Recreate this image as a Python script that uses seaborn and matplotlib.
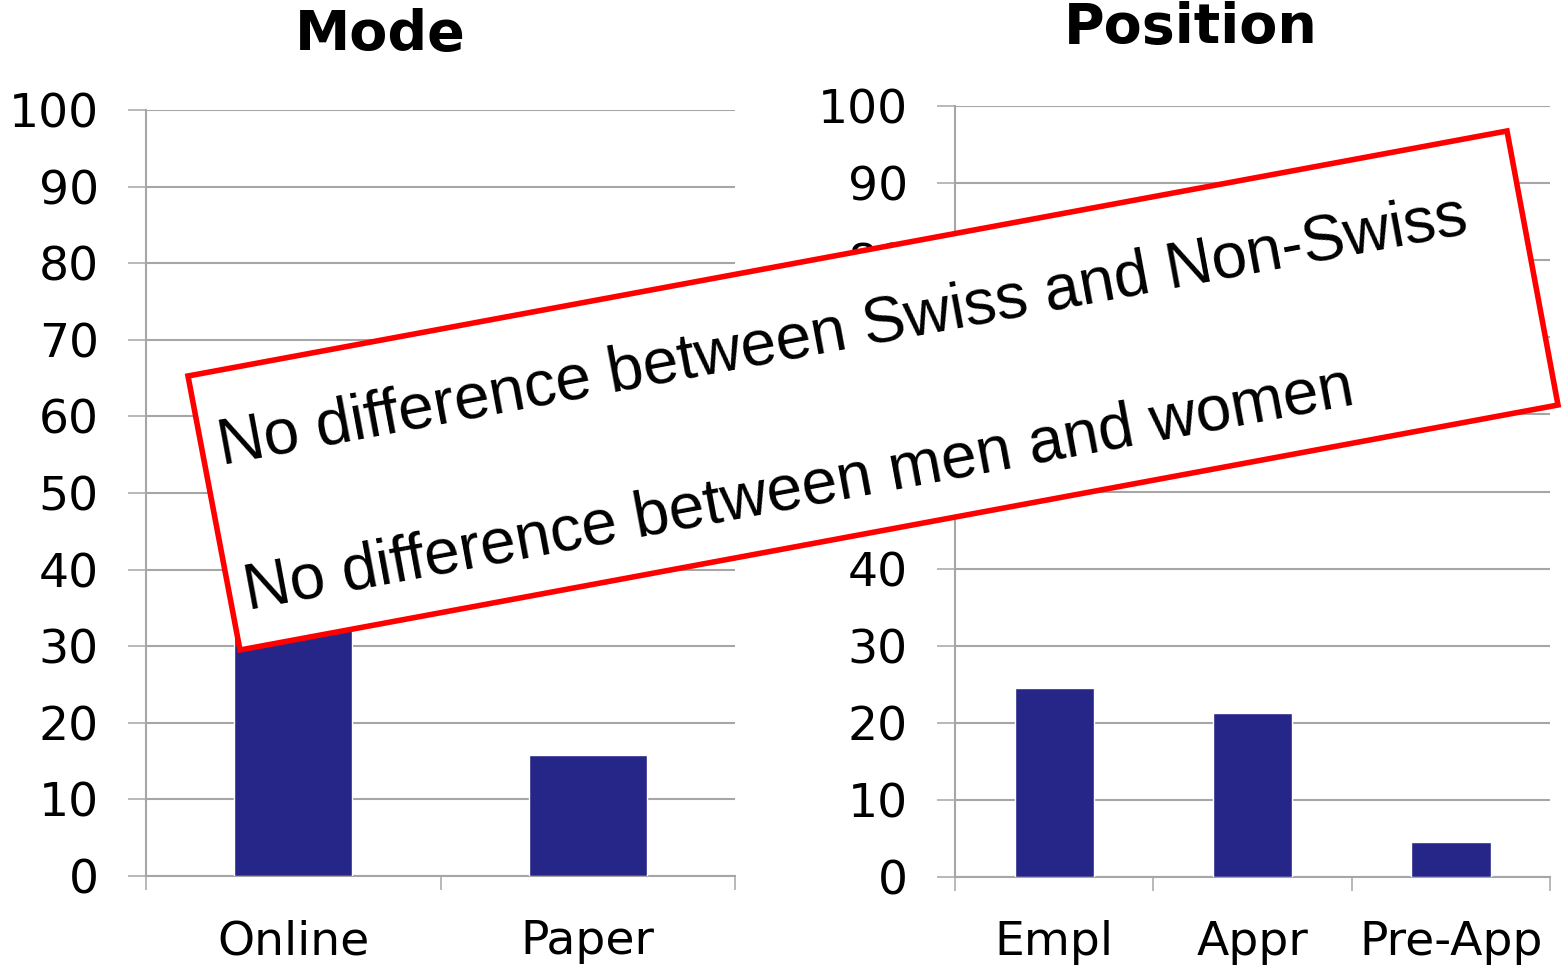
import numpy as np
import pandas as pd
import matplotlib
matplotlib.use('Agg')
import matplotlib.pyplot as plt
from matplotlib.patches import Polygon
from matplotlib.ticker import MultipleLocator, FixedLocator
import seaborn as sns

# data
mode_cats = ['Online', 'Paper']
mode_vals = [36.0, 15.8]
pos_cats = ['Empl', 'Appr', 'Pre-App']
pos_vals = [24.5, 21.3, 4.5]

note_lines = ['No difference between Swiss and Non-Swiss',
              'No difference between men and women']

sns.set_theme(style='white')
plt.rcParams['font.family'] = ['DejaVu Sans']
plt.rcParams['text.color'] = 'black'
plt.rcParams['xtick.labelcolor'] = 'black'
plt.rcParams['ytick.labelcolor'] = 'black'

W, H = 1562, 965
fig = plt.figure(figsize=(W/100, H/100), dpi=100)

_bar = '#262688'
_grid = '#a6a6a6'
_fs = 34

def px(x0, y0, x1, y1):
    return [x0/W, 1 - y1/H, (x1-x0)/W, (y1-y0)/H]

ax1 = fig.add_axes(px(146, 110, 735, 876))
ax2 = fig.add_axes(px(955, 106, 1550, 877))

for ax, cats, vals, title, tx, ty in [(ax1, mode_cats, mode_vals, 'Mode', 380, 35),
                                       (ax2, pos_cats, pos_vals, 'Position', 1191, 28)]:
    df = pd.DataFrame({'cat': cats, 'val': vals})
    sns.barplot(data=df, x='cat', y='val', ax=ax, color=_bar, width=0.4,
                saturation=1, zorder=3)
    ax.set_xlim(-0.5, len(cats) - 0.5)
    ax.set_ylim(0, 100)
    ax.yaxis.set_major_locator(MultipleLocator(10))
    ax.grid(axis='y', color=_grid, lw=1.5, zorder=0)
    ax.set_axisbelow(True)
    for s in ['top', 'right']:
        ax.spines[s].set_visible(False)
    for s in ['left', 'bottom']:
        ax.spines[s].set_color(_grid)
        ax.spines[s].set_linewidth(1.5)
    ax.tick_params(axis='y', length=13, width=1.1, color=_grid, pad=21,
                   labelsize=_fs, left=True, labelcolor='black')
    ax.tick_params(axis='x', which='major', length=0, pad=31, labelsize=_fs,
                   labelcolor='black')
    ax.xaxis.set_minor_locator(FixedLocator(np.arange(-0.5, len(cats), 1.0)))
    ax.tick_params(axis='x', which='minor', length=10, width=1.1,
                   color=_grid, bottom=True)
    ax.set_xlabel('')
    ax.set_ylabel('')
    fig.text(tx/W, 1 - ty/H, title, ha='center', va='center',
             fontsize=40, fontweight='bold', color='black')

# rotated note box
corners = [(188, 376), (1507, 131), (1558, 405), (240, 650)]
poly = Polygon([(x/W, 1 - y/H) for x, y in corners], closed=True,
               transform=fig.transFigure, facecolor='white', edgecolor='#ff0000',
               lw=4, zorder=10)
fig.add_artist(poly)

ang = np.degrees(np.arctan2(376 - 131, 1507 - 188))
for txt, (x, y) in zip(note_lines, [(222, 465), (248, 610)]):
    fig.text(x/W, 1 - y/H, txt, rotation=ang, rotation_mode='anchor',
             ha='left', va='baseline', fontsize=46, family='Liberation Sans',
             color='black', zorder=11)

fig.savefig('out.png', dpi=100)
